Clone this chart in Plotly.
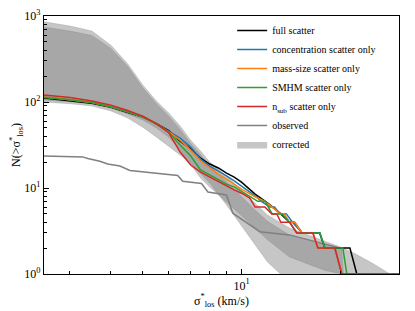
import plotly.graph_objects as go

# ---------------- data ----------------
x_front = [2.5, 3, 3.5, 4, 4.5, 5, 5.5, 6]

full_x = x_front + [6.5, 7, 7.5, 8, 8.5, 9, 9.5, 10, 11, 12, 13.1, 14.0, 14.5, 15.3, 17.3, 17.95, 21.4, 22.46, 30.2]
full_y = [111, 104, 96.5, 87, 76.5, 67, 56, 46.5,
          35, 28.5, 22.3, 19, 17.1, 14.9, 13.4, 11.7, 8.5, 6.7, 5.1, 4, 4, 3, 3, 2, 2, 1, 1]

conc_x = x_front + [6.5, 7, 7.5, 8, 8.5, 9, 9.5, 10, 11, 11.5, 12.2, 12.6, 13.1, 13.7, 14.3, 15.3, 17.33, 17.95, 19.25, 20.22, 30.2]
conc_y = [114, 106.5, 98.5, 88, 77, 67.5, 55.5, 45.5,
          38, 30, 21.7, 18, 15.8, 13.8, 12.1, 10.6, 8.1, 7, 6, 6, 5, 5, 4, 3, 3, 2, 2, 1, 1]

mass_x = x_front + [6.5, 7, 7.5, 8, 8.5, 9, 9.5, 10, 11, 11.8, 12.4, 13.1, 13.5, 14.0, 14.54, 15.27, 16.5, 17.09, 19.25, 20.22, 30.2]
mass_y = [114, 106.5, 98.5, 88, 77, 67.5, 55.5, 45,
          36, 27.7, 20.6, 17.1, 14.5, 12.7, 11.1, 9.7, 7.9, 7, 6, 5, 5, 4, 4, 3, 3, 2, 2, 1, 1]

smhm_x = x_front + [6.5, 7, 7.5, 8, 8.5, 9, 9.5, 10, 10.6, 11.2, 11.8, 12.4, 13.3, 14.0, 14.74, 17.33, 17.95, 20.36, 20.94, 30.2]
smhm_y = [113, 106.5, 98.5, 88, 77, 67.5, 55.5, 44.5,
          31.6, 23.5, 16.2, 14.2, 12.7, 11.1, 10.3, 9.2, 8, 7, 7, 5, 5, 4, 3, 3, 2, 2, 1, 1]

nsub_x = x_front + [6.5, 7, 7.5, 8, 8.5, 9, 9.5, 10, 10.6, 11.0, 11.78, 12.37, 12.81, 13.18, 14.03, 14.74, 16.5, 17.09, 19.25, 20.22, 30.2]
nsub_y = [121, 113, 103, 92, 79.5, 68.5, 56, 44,
          26.2, 18.5, 15.3, 13.4, 12.1, 10.6, 9.5, 8.7, 7.65, 6, 6, 5, 5, 4, 4, 3, 3, 2, 2, 1, 1]

obs_x = [2.5, 3.28, 3.40, 3.70, 3.91, 4.26, 4.57, 6.39, 6.62, 6.94, 7.55, 7.9, 9.0, 9.41, 11.37, 14.0, 20.0]
obs_y = [23.5, 23, 22, 20.5, 19, 18, 16, 14, 12, 11.7, 11.3, 9, 8.3, 5.1, 3.1, 2.85, 2.0]

# corrected bands (two overlapping ranges)
bandA_x = [2.5, 3, 3.5, 4, 4.5, 5, 5.5, 6, 6.5, 7, 7.5, 8, 9, 10, 11, 12, 14, 16, 18, 20, 22, 25, 28, 30.2]
bandA_hi = [857, 765, 669, 458, 277, 158, 103, 74.6, 52.6, 36, 27, 20, 13.8, 9.5, 6.7, 4.85, 3.43, 2.84, 2.42, 2.06, 1.75, 1.34, 1.03, 0.9]
bandA_lo = [100, 95.5, 89.7, 78.7, 65, 51, 39.3, 30.8, 24.2, 19.5, 14.9, 11.4, 6.35, 3.6, 2.17, 1.38, 0.8, 0.8, 0.8, 0.8, 0.8, 0.8, 0.8, 0.8]

bandB_x = [2.5, 3, 3.5, 4, 4.5, 5, 5.5, 6, 6.5, 7, 7.5, 8, 9, 10, 11, 12, 14, 16, 18, 20.2, 20.7]
bandB_hi = [745, 668, 595, 420, 258, 146, 96, 68.5, 48, 33, 24.5, 18, 11.9, 7.9, 5.55, 4.1, 2.84, 2.5, 2.23, 2.0, 0.5]
bandB_lo = [105.5, 101, 95, 85, 72.5, 61.8, 49.9, 39, 27.7, 18.5, 13.1, 10.3, 6.9, 4.85, 3.43, 2.5, 1.58, 1.3, 1.1, 1.0, 0.5]

x_tickvals = [10]
x_ticktext = ["10<sup>1</sup>"]
y_tickvals = [1, 10, 100, 1000]
y_ticktext = ["10<sup>0</sup>", "10<sup>1</sup>", "10<sup>2</sup>", "10<sup>3</sup>"]

# ---------------- figure ----------------
FONT = "Liberation Serif, DejaVu Serif, serif"
fillc = "rgba(128,128,128,0.45)"
fig = go.Figure()

fig.add_trace(go.Scatter(x=bandA_x, y=bandA_lo, mode="lines", line=dict(width=0.6, color=fillc),
                         showlegend=False, hoverinfo="skip"))
fig.add_trace(go.Scatter(x=bandA_x, y=bandA_hi, mode="lines", line=dict(width=0.6, color=fillc),
                         fill="tonexty", fillcolor=fillc, name="corrected", legendrank=7))
fig.add_trace(go.Scatter(x=bandB_x, y=bandB_lo, mode="lines", line=dict(width=0.6, color=fillc),
                         showlegend=False, hoverinfo="skip"))
fig.add_trace(go.Scatter(x=bandB_x, y=bandB_hi, mode="lines", line=dict(width=0.6, color=fillc),
                         fill="tonexty", fillcolor=fillc, showlegend=False))

fig.add_trace(go.Scatter(x=obs_x, y=obs_y, mode="lines", line=dict(width=1.5, color="#808080"),
                         name="observed", legendrank=6))

series = [
    (full_x, full_y, "black", "full scatter", 1),
    (conc_x, conc_y, "#1f77b4", "concentration scatter only", 2),
    (mass_x, mass_y, "#ff7f0e", "mass-size scatter only", 3),
    (smhm_x, smhm_y, "#2ca02c", "SMHM scatter only", 4),
    (nsub_x, nsub_y, "#d62728", "n<sub>sub</sub> scatter only", 5),
]
for xs, ys, c, nm, rk in series:
    fig.add_trace(go.Scatter(x=xs, y=ys, mode="lines", line=dict(width=1.5, color=c),
                             name=nm, legendrank=rk))

axis_common = dict(
    type="log", showline=True, linecolor="black", linewidth=1.2, mirror=True,
    ticks="inside", ticklen=4.5, tickwidth=0.8, tickcolor="black",
    showgrid=False, zeroline=False, automargin=False,
    tickfont=dict(family=FONT, size=12, color="black"),
    minor=dict(ticks="inside", ticklen=2.5, tickwidth=0.6, tickcolor="black", dtick="D1", showgrid=False),
)

fig.update_xaxes(**axis_common, range=[0.39794, 1.48], tickvals=x_tickvals, ticktext=x_ticktext,
                 title=dict(text="σ<sup>*</sup><sub>los</sub> (km/s)", standoff=0,
                            font=dict(family=FONT, size=12, color="black")))
fig.update_yaxes(**axis_common, range=[0, 3], tickvals=y_tickvals, ticktext=y_ticktext,
                 title=dict(text="N(>σ<sup>*</sup><sub>los</sub>)", standoff=2,
                            font=dict(family=FONT, size=12, color="black")))

# the page body has an 8px default margin; the figure is sized to fit the window
fig.update_layout(
    width=407, height=303,
    margin=dict(l=36, r=16, t=8, b=37),
    plot_bgcolor="white", paper_bgcolor="white",
    font=dict(family=FONT, color="black"),
    legend=dict(x=0.53, y=1.0, xanchor="left", yanchor="top", traceorder="normal",
                bgcolor="rgba(0,0,0,0)", borderwidth=0,
                font=dict(family=FONT, size=10, color="black"),
                itemwidth=30, tracegroupgap=0),
)

fig.write_html("out.html")
